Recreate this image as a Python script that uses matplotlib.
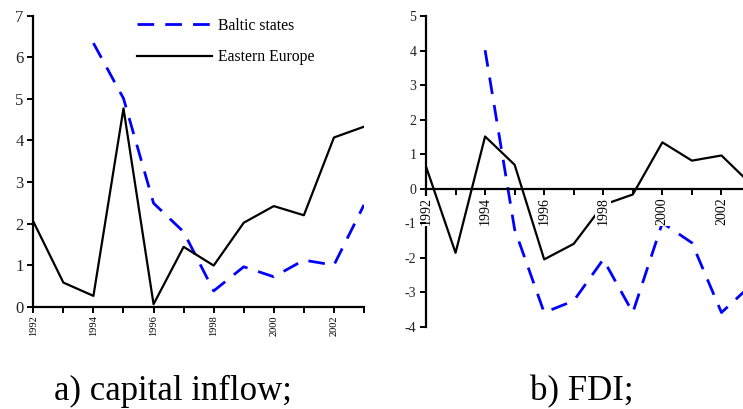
import matplotlib
matplotlib.use("Agg")
import matplotlib.pyplot as plt

plt.rcParams['font.family'] = ['Liberation Serif', 'DejaVu Serif']
plt.rcParams['axes.unicode_minus'] = False

years = list(range(1992, 2004))
year_labels = [str(y) if y % 2 == 0 else '' for y in years]

# a) capital inflow
cap_eastern = [2.05, 0.58, 0.26, 4.77, 0.06, 1.44, 0.99, 2.02, 2.42, 2.20, 4.07, 4.33]
cap_baltic_years = list(range(1994, 2004))
cap_baltic = [6.34, 5.01, 2.49, 1.80, 0.38, 0.96, 0.72, 1.12, 1.00, 2.45]

# b) FDI
fdi_eastern = [0.64, -1.86, 1.51, 0.69, -2.05, -1.60, -0.47, -0.17, 1.34, 0.81, 0.96, 0.13]
fdi_baltic_years = list(range(1994, 2004))
fdi_baltic = [4.01, -1.18, -3.59, -3.25, -2.05, -3.59, -0.99, -1.57, -3.59, -2.80]

W, H = 743, 409
fig = plt.figure(figsize=(W / 100, H / 100), dpi=100)

BLUE = '#0000ff'
dash = (0, (6, 4))

# ---------- left panel ----------
axL = fig.add_axes([33.3 / W, 1 - 306.7 / H, (364 - 33.3) / W, (306.7 - 15.7) / H])
lb, = axL.plot(cap_baltic_years, cap_baltic, color=BLUE, lw=2.0, linestyle=dash, label='Baltic states')
le, = axL.plot(years, cap_eastern, color='black', lw=1.6, label='Eastern Europe')
axL.set_xlim(1992, 2003)
axL.set_ylim(0, 7)
axL.set_yticks(range(0, 8))
axL.set_xticks(years)
axL.set_xticklabels(year_labels, rotation=90, fontsize=7.5)
for s in ['top', 'right']:
    axL.spines[s].set_visible(False)
for s in ['left', 'bottom']:
    axL.spines[s].set_linewidth(1.6)
axL.tick_params(axis='y', labelsize=12, length=4, width=1.4, pad=3, colors='black')
axL.tick_params(axis='x', length=4, width=1.4, pad=2)
for t in axL.get_yticklabels():
    t.set_color('#222222')

leg = axL.legend(handles=[lb, le], loc='upper left', bbox_to_anchor=(0.3136, 0.993),
                 frameon=False, fontsize=11.3, handlelength=4.75, handletextpad=0.4,
                 labelspacing=1.0, borderpad=0, borderaxespad=0)

# ---------- right panel ----------
axR = fig.add_axes([426 / W, 1 - 326.7 / H, (751 - 426) / W, (326.7 - 16) / H])
axR.spines['top'].set_visible(False)
axR.spines['right'].set_visible(False)
axR.spines['bottom'].set_position(('data', 0))
axR.plot(fdi_baltic_years, fdi_baltic, color=BLUE, lw=2.0, linestyle=dash)
axR.plot(years, fdi_eastern, color='black', lw=1.6)
axR.set_xlim(1992, 2003)
axR.set_ylim(-4, 5)
axR.set_yticks(range(-4, 6))
axR.set_xticks(years)
axR.set_xticklabels(year_labels, rotation=90, fontsize=10)
for s in ['left', 'bottom']:
    axR.spines[s].set_linewidth(1.6)
axR.tick_params(axis='y', labelsize=10, length=4, width=1.4, pad=3)
axR.tick_params(axis='x', length=4, width=1.4, pad=2)
axR.set_axisbelow(False)
for t in axR.get_xticklabels():
    t.set_bbox(dict(facecolor='white', edgecolor='none', pad=1.0))
for t in axR.get_yticklabels():
    t.set_color('#222222')

# ---------- captions ----------
fig.text(172.5 / W, 1 - 400 / H, 'a) capital inflow;', fontsize=25, ha='center', va='baseline')
fig.text(582 / W, 1 - 400 / H, 'b) FDI;', fontsize=25, ha='center', va='baseline')

fig.savefig('out.png', dpi=100)
